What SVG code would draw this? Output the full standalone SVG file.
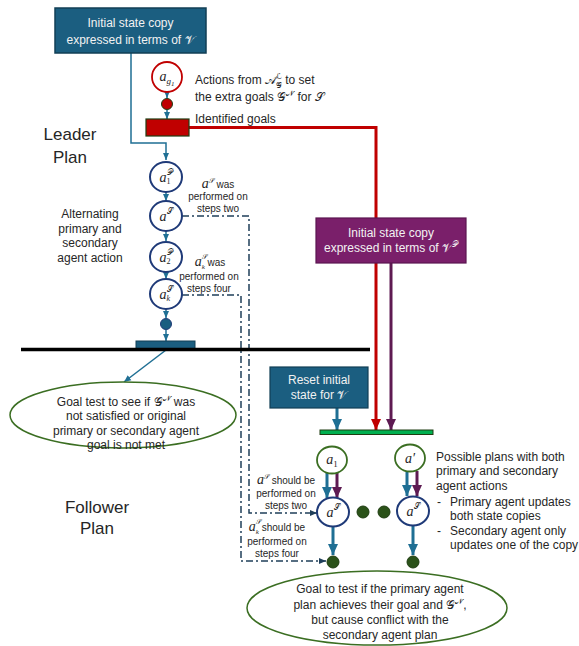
<svg xmlns="http://www.w3.org/2000/svg" width="579" height="646" viewBox="0 0 579 646">
<style>
text{font-family:"Liberation Sans",Arial,sans-serif;font-size:12px;fill:#262626}
.w{fill:#f2f2f2;text-anchor:middle}
.c{text-anchor:middle}
.s{font-size:10px;text-anchor:middle}
.big{font-size:17px;text-anchor:middle}
.m{font-family:"Liberation Serif","DejaVu Serif",serif;font-style:italic;font-size:14px;text-anchor:middle}
.sc{font-family:"DejaVu Serif","DejaVu Sans","Noto Sans",serif;font-style:normal}
.tl{fill:none;stroke:#1f6f94;stroke-width:1.5}
.nav{fill:#fff;stroke:#1f3a78;stroke-width:2}
.grn{fill:#fff;stroke:#3b6e22;stroke-width:1.8}
.dd{fill:none;stroke:#1f3f5a;stroke-width:1.5;stroke-dasharray:7 3 2 3}
.dot{fill:#2b5219;stroke:#1f3d12;stroke-width:1}
</style>
<defs>
<marker id="ta" markerUnits="userSpaceOnUse" markerWidth="8" markerHeight="8" refX="7" refY="4" orient="auto"><path d="M0,1 L7,4 L0,7 z" fill="#1f6f94"/></marker>
<marker id="tb" markerUnits="userSpaceOnUse" markerWidth="12" markerHeight="12" refX="11" refY="6" orient="auto"><path d="M0,1 L11,6 L0,11 z" fill="#1f6f94"/></marker>
<marker id="rb" markerUnits="userSpaceOnUse" markerWidth="12" markerHeight="12" refX="11" refY="6" orient="auto"><path d="M0,1 L11,6 L0,11 z" fill="#c00000"/></marker>
<marker id="pb" markerUnits="userSpaceOnUse" markerWidth="12" markerHeight="12" refX="11" refY="6" orient="auto"><path d="M0,1 L11,6 L0,11 z" fill="#5e1a52"/></marker>
<marker id="da" markerUnits="userSpaceOnUse" markerWidth="8" markerHeight="8" refX="7" refY="4" orient="auto"><path d="M0,1 L7,4 L0,7 z" fill="#1f3f5a"/></marker>
</defs>

<g id="connectors">
  <polyline class="tl" points="131,53 131,143 166,143 166,160" marker-end="url(#ta)"/>
  <line class="tl" x1="167" y1="92" x2="167" y2="98" marker-end="url(#ta)"/>
  <line class="tl" x1="167" y1="110" x2="167" y2="119" marker-end="url(#ta)"/>
  <line class="tl" x1="166" y1="192" x2="166" y2="201" marker-end="url(#ta)"/>
  <line class="tl" x1="166" y1="231" x2="166" y2="241" marker-end="url(#ta)"/>
  <line class="tl" x1="166" y1="272" x2="166" y2="279" marker-end="url(#ta)"/>
  <line class="tl" x1="166" y1="309" x2="166" y2="318" marker-end="url(#ta)"/>
  <line class="tl" x1="166" y1="330" x2="166" y2="341" marker-end="url(#ta)"/>
  <line class="tl" x1="166" y1="350" x2="124" y2="382" marker-end="url(#ta)"/>
  <polyline fill="none" stroke="#c00000" stroke-width="3" points="189,127.5 376,127.5 376,430" marker-end="url(#rb)"/>
  <line stroke="#5e1a52" stroke-width="3" x1="391" y1="263" x2="391" y2="430" marker-end="url(#pb)"/>
  <line stroke="#1f6f94" stroke-width="3" x1="337" y1="408" x2="337" y2="430" marker-end="url(#tb)"/>
  <polyline class="dd" points="182,216 249,216 249,513 317,513" marker-end="url(#da)"/>
  <polyline class="dd" points="182,295 241,295 241,561 326,561" marker-end="url(#da)"/>
  <line stroke="#1f6f94" stroke-width="3" x1="327" y1="473" x2="327" y2="498" marker-end="url(#tb)"/>
  <line stroke="#5e1a52" stroke-width="3" x1="337" y1="473" x2="337" y2="498" marker-end="url(#pb)"/>
  <line stroke="#1f6f94" stroke-width="3" x1="407" y1="471" x2="407" y2="496" marker-end="url(#tb)"/>
  <line stroke="#5e1a52" stroke-width="3" x1="417" y1="471" x2="417" y2="496" marker-end="url(#pb)"/>
  <line stroke="#1f6f94" stroke-width="3" x1="333" y1="527" x2="333" y2="555" marker-end="url(#tb)"/>
  <line stroke="#1f6f94" stroke-width="3" x1="413" y1="526" x2="413" y2="555" marker-end="url(#tb)"/>
</g>

<g id="leader-init">
  <rect x="55" y="8" width="151" height="45" fill="#1b5e80" stroke="#123f55" stroke-width="1.5"/>
  <text class="w" x="130.5" y="27">Initial state copy</text>
  <text class="w" x="130.5" y="44">expressed in terms of <tspan class="sc">𝒱</tspan></text>
</g>

<g id="ag1">
  <circle cx="167" cy="77" r="15" fill="#fff" stroke="#c00000" stroke-width="1.8"/>
  <text class="m" x="167" y="81">a<tspan font-size="9" dy="3">g</tspan><tspan font-size="7" dy="2">1</tspan></text>
</g>
<g id="red-dot"><circle cx="167" cy="104" r="5.5" fill="#c00000" stroke="#1f3d12" stroke-width="1"/></g>
<g id="goals-rect"><rect x="146" y="119" width="43" height="17" fill="#c00000" stroke="#1f3d12" stroke-width="1.2"/></g>
<text x="195" y="84">Actions from <tspan class="sc">𝒜</tspan><tspan class="sc" font-size="8" dy="-5">ℒ</tspan><tspan class="sc" font-size="8" dx="-6" dy="9">𝒢</tspan><tspan dy="-4"> to set</tspan></text>
<text x="195" y="101">the extra goals <tspan class="sc">𝒢</tspan><tspan class="sc" font-size="8" dy="-5">𝒩</tspan><tspan dy="5"> for </tspan><tspan class="sc">𝒮</tspan></text>
<text x="195" y="123">Identified goals</text>

<text class="big" x="70" y="140">Leader</text>
<text class="big" x="70" y="163">Plan</text>

<g id="a1P"><ellipse class="nav" cx="166" cy="177" rx="16" ry="15"/><text class="m" x="166" y="182">a<tspan class="sc" font-size="8" dy="-7">𝒫</tspan><tspan font-size="8" dx="-6" dy="9" font-style="normal">1</tspan></text></g>
<g id="aS"><ellipse class="nav" cx="166" cy="216" rx="16" ry="15"/><text class="m" x="166" y="221">a<tspan class="sc" font-size="8" dy="-7">𝒮</tspan></text></g>
<g id="a2P"><ellipse class="nav" cx="166" cy="257" rx="16" ry="15"/><text class="m" x="166" y="262">a<tspan class="sc" font-size="8" dy="-7">𝒫</tspan><tspan font-size="8" dx="-6" dy="9" font-style="normal">2</tspan></text></g>
<g id="akS"><ellipse class="nav" cx="166" cy="294" rx="16" ry="15"/><text class="m" x="166" y="299">a<tspan class="sc" font-size="8" dy="-7">𝒮</tspan><tspan font-size="8" dx="-6" dy="9">k</tspan></text></g>
<g id="leader-dot"><circle cx="166" cy="324" r="5.5" fill="#1b5e80" stroke="#1f3a78" stroke-width="1"/></g>
<g id="leader-end"><rect x="136" y="341" width="59" height="8" fill="#1b5e80" stroke="#123f55" stroke-width="1"/></g>
<line x1="21" y1="349.5" x2="370" y2="349.5" stroke="#000" stroke-width="3.5"/>

<text class="c" x="90" y="218">Alternating</text>
<text class="c" x="90" y="233">primary and</text>
<text class="c" x="90" y="247">secondary</text>
<text class="c" x="90" y="262">agent action</text>

<text class="s" x="218" y="188"><tspan class="m" font-size="11">a<tspan class="sc" font-size="7" dy="-5">𝒮</tspan></tspan><tspan dy="5"> was</tspan></text>
<text class="s" x="218" y="200">performed on</text>
<text class="s" x="218" y="212">steps two</text>
<text class="s" x="210" y="266"><tspan class="m" font-size="11">a<tspan class="sc" font-size="7" dy="-7">𝒮</tspan><tspan font-size="7" dx="-5" dy="10">k</tspan></tspan><tspan dy="-3">  was</tspan></text>
<text class="s" x="209" y="280">performed on</text>
<text class="s" x="209" y="292">steps four</text>

<g id="goal-test">
  <ellipse cx="123" cy="415" rx="113" ry="33" fill="#fff" stroke="#3b6e22" stroke-width="1.5"/>
  <text class="c" x="126" y="406">Goal test to see if <tspan class="sc">𝒢</tspan><tspan class="sc" font-size="8" dy="-5">𝒩</tspan><tspan dy="5"> was</tspan></text>
  <text class="c" x="126" y="420">not satisfied or original</text>
  <text class="c" x="126" y="435">primary or secondary agent</text>
  <text class="c" x="126" y="449">goal is not met</text>
</g>

<g id="follower-init">
  <rect x="316" y="218" width="150" height="45" fill="#7a1f6a" stroke="#5a1550" stroke-width="1.2"/>
  <text class="w" x="391" y="237">Initial state copy</text>
  <text class="w" x="391" y="252">expressed in terms of <tspan class="sc">𝒱</tspan><tspan class="sc" font-size="8" dy="-5">𝒫</tspan></text>
</g>

<g id="reset">
  <rect x="270" y="367" width="98" height="41" fill="#1b5e80" stroke="#123f55" stroke-width="1.2"/>
  <text class="w" x="319" y="384">Reset initial</text>
  <text class="w" x="319" y="399">state for <tspan class="sc">𝒱</tspan></text>
</g>
<g id="green-bar"><rect x="320" y="430" width="113" height="4.5" fill="#00b050" stroke="#1f3d12" stroke-width="1"/></g>

<g id="a1"><ellipse class="grn" cx="332" cy="460" rx="15" ry="13.5"/><text class="m" x="332" y="464">a<tspan font-size="9" dy="3" font-style="normal">1</tspan></text></g>
<g id="aprime"><ellipse class="grn" cx="410" cy="458" rx="15" ry="13.5"/><text class="m" x="410" y="463">a′</text></g>
<g id="aS-f1"><ellipse class="nav" cx="333" cy="512" rx="16" ry="14.5"/><text class="m" x="333" y="517">a<tspan class="sc" font-size="8" dy="-7">𝒮</tspan></text></g>
<g id="aS-f2"><ellipse class="nav" cx="413" cy="511" rx="16" ry="14.5"/><text class="m" x="413" y="516">a<tspan class="sc" font-size="8" dy="-7">𝒮</tspan></text></g>
<g id="dots"><circle class="dot" cx="363" cy="512" r="6"/><circle class="dot" cx="384" cy="512" r="6"/></g>
<g id="end1"><circle class="dot" cx="333" cy="562" r="6"/></g>
<g id="end2"><circle class="dot" cx="413" cy="562" r="6"/></g>

<text class="s" x="286" y="484"><tspan class="m" font-size="11">a<tspan class="sc" font-size="7" dy="-5">𝒮</tspan></tspan><tspan dy="5">  should be</tspan></text>
<text class="s" x="286" y="497">performed on</text>
<text class="s" x="286" y="509">steps two</text>
<text class="s" x="277" y="531"><tspan class="m" font-size="11">a<tspan class="sc" font-size="7" dy="-7">𝒮</tspan><tspan font-size="7" dx="-5" dy="10">k</tspan></tspan><tspan dy="-3">  should be</tspan></text>
<text class="s" x="277" y="545">performed on</text>
<text class="s" x="277" y="557">steps four</text>

<text x="436" y="461">Possible plans with both</text>
<text x="436" y="475">primary and secondary</text>
<text x="436" y="490">agent actions</text>
<text x="437" y="506">-</text><text x="450" y="506">Primary agent updates</text>
<text x="450" y="520">both state copies</text>
<text x="437" y="535">-</text><text x="450" y="535">Secondary agent only</text>
<text x="450" y="549">updates one of the copy</text>

<text class="big" x="97" y="513">Follower</text>
<text class="big" x="97" y="534">Plan</text>

<g id="goal-final">
  <ellipse cx="377" cy="608" rx="130" ry="37" fill="#fff" stroke="#3b6e22" stroke-width="1.5"/>
  <text class="c" x="380" y="593">Goal to test if the primary agent</text>
  <text class="c" x="380" y="609">plan achieves their goal and <tspan class="sc">𝒢</tspan><tspan class="sc" font-size="8" dy="-5">𝒩</tspan><tspan dy="5">,</tspan></text>
  <text class="c" x="380" y="624">but cause conflict with the</text>
  <text class="c" x="380" y="639">secondary agent plan</text>
</g>
</svg>
